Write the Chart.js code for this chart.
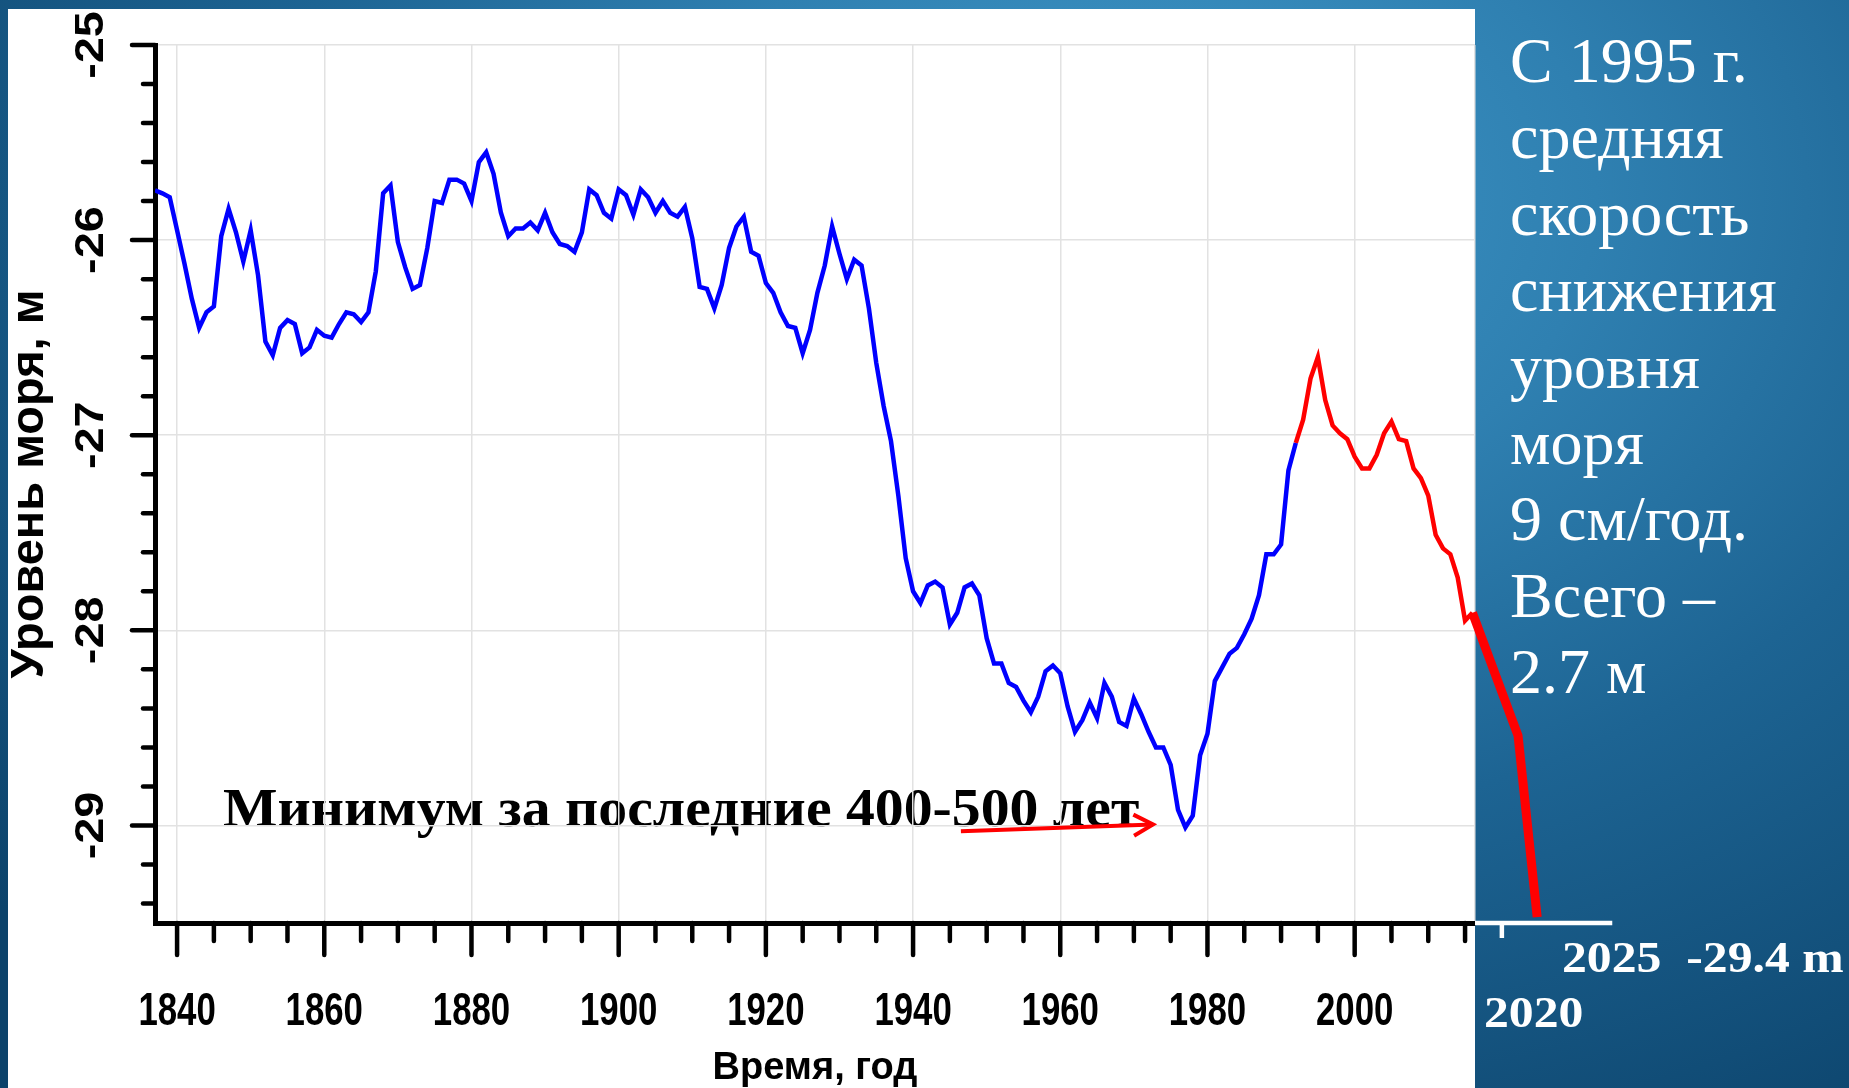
<!DOCTYPE html>
<html><head><meta charset="utf-8">
<script src="https://cdn.jsdelivr.net/npm/chart.js@4.4.1/dist/chart.umd.min.js"></script>
<style>
html,body{margin:0;padding:0;}
body{width:1849px;height:1088px;overflow:hidden;position:relative;
 background:radial-gradient(ellipse 1500px 1100px at 62% 18%, #3f97c8 0%, #2f80b1 30%, #1d6493 58%, #0c436b 100%);}
#panel{position:absolute;left:8px;top:9px;width:1467px;height:1079px;background:#fff;}
#note{position:absolute;left:223px;top:780px;font:bold 55px 'Liberation Serif',serif;line-height:55px;color:#000;white-space:nowrap;transform:scaleX(1.05);transform-origin:0 0;}
#wrap{position:absolute;left:0;top:0;width:1849px;height:1088px;}
#side{position:absolute;left:1510px;top:23px;color:#fff;font:64px 'Liberation Serif',serif;line-height:76.4px;white-space:pre;}
.lab{position:absolute;color:#fff;font:bold 44px 'Liberation Serif',serif;line-height:44px;white-space:pre;transform:scaleX(1.13);transform-origin:0 0;}
</style></head>
<body>
<div id="panel"></div>
<div id="note">Минимум за последние 400-500 лет</div>
<div id="wrap"><canvas id="c" width="1849" height="1088"></canvas></div>
<div id="side">С 1995 г.
средняя
скорость
снижения
уровня
моря
9 см/год.
Всего –
2.7 м</div>
<div class="lab" style="left:1562px;top:936px;">2025  -29.4 m</div>
<div class="lab" style="left:1484px;top:991px;">2020</div>
<script>
// ---- data ----
const years = [1837,1838,1839,1840,1841,1842,1843,1844,1845,1846,1847,1848,1849,1850,1851,1852,1853,1854,1855,1856,1857,1858,1859,1860,1861,1862,1863,1864,1865,1866,1867,1868,1869,1870,1871,1872,1873,1874,1875,1876,1877,1878,1879,1880,1881,1882,1883,1884,1885,1886,1887,1888,1889,1890,1891,1892,1893,1894,1895,1896,1897,1898,1899,1900,1901,1902,1903,1904,1905,1906,1907,1908,1909,1910,1911,1912,1913,1914,1915,1916,1917,1918,1919,1920,1921,1922,1923,1924,1925,1926,1927,1928,1929,1930,1931,1932,1933,1934,1935,1936,1937,1938,1939,1940,1941,1942,1943,1944,1945,1946,1947,1948,1949,1950,1951,1952,1953,1954,1955,1956,1957,1958,1959,1960,1961,1962,1963,1964,1965,1966,1967,1968,1969,1970,1971,1972,1973,1974,1975,1976,1977,1978,1979,1980,1981,1982,1983,1984,1985,1986,1987,1988,1989,1990,1991,1992,1993,1994,1995,1996,1997,1998,1999,2000,2001,2002,2003,2004,2005,2006,2007,2008,2009,2010,2011,2012,2013,2014,2015,2016];
const levels = [-25.745,-25.76,-25.78,-25.95,-26.12,-26.30,-26.45,-26.37,-26.34,-25.98,-25.84,-25.96,-26.11,-25.95,-26.18,-26.52,-26.59,-26.45,-26.41,-26.43,-26.58,-26.55,-26.46,-26.49,-26.50,-26.43,-26.37,-26.38,-26.42,-26.37,-26.16,-25.76,-25.72,-26.01,-26.14,-26.25,-26.23,-26.04,-25.80,-25.81,-25.69,-25.69,-25.71,-25.80,-25.60,-25.55,-25.66,-25.86,-25.98,-25.94,-25.94,-25.91,-25.95,-25.86,-25.96,-26.02,-26.03,-26.06,-25.96,-25.74,-25.77,-25.86,-25.89,-25.74,-25.77,-25.87,-25.74,-25.78,-25.86,-25.80,-25.86,-25.88,-25.83,-25.99,-26.24,-26.25,-26.35,-26.23,-26.04,-25.93,-25.88,-26.06,-26.08,-26.22,-26.27,-26.37,-26.44,-26.45,-26.58,-26.46,-26.27,-26.13,-25.93,-26.07,-26.20,-26.10,-26.13,-26.35,-26.63,-26.85,-27.03,-27.31,-27.63,-27.80,-27.86,-27.77,-27.75,-27.78,-27.97,-27.91,-27.78,-27.76,-27.82,-28.04,-28.17,-28.17,-28.27,-28.29,-28.36,-28.42,-28.34,-28.21,-28.18,-28.22,-28.39,-28.52,-28.46,-28.37,-28.45,-28.27,-28.34,-28.47,-28.49,-28.35,-28.43,-28.52,-28.60,-28.60,-28.69,-28.92,-29.01,-28.95,-28.64,-28.53,-28.26,-28.19,-28.12,-28.09,-28.02,-27.94,-27.82,-27.61,-27.61,-27.56,-27.18,-27.04,-26.92,-26.71,-26.60,-26.82,-26.95,-26.99,-27.02,-27.11,-27.17,-27.17,-27.10,-26.99,-26.93,-27.02,-27.03,-27.17,-27.22,-27.31,-27.51,-27.58,-27.61,-27.73,-27.95,-27.91];
const redFromYear = 1992;            // series turns red from here on
// hand-drawn projection (thick red), listed from its far end back to 2016
const extYears  = [2024.8, 2022.2, 2016];
const extLevels = [-29.47, -28.54, -27.91];
const arrowFrom = [1946.5, -29.03];
const arrowTo   = [1972.6, -28.995];
const xMin = 1837, xMax = 2016.35, yMin = -29.5, yMax = -25;
const extTickYear = 2020, axisExtendYear = 2035;

// ---- build datasets ----
const bluePts = [], redPts = [];
years.forEach((yr,i)=>{
  if (yr <= redFromYear) bluePts.push({x:yr,y:levels[i]});
  if (yr >= redFromYear) redPts.push({x:yr,y:levels[i]});
});
const extPts = extYears.map((yr,i)=>({x:yr,y:extLevels[i]}));

const isInt = v => Math.abs(v - Math.round(v)) < 1e-6;
const isMult = (v,m) => isInt(v) && Math.round(v) % m === 0;

const axisDeco = {
  id:'axisDeco',
  beforeDatasetsDraw(chart){
    const {ctx, scales:{x}, chartArea:a} = chart;
    ctx.save();
    ctx.strokeStyle = '#ffffff'; ctx.lineWidth = 4.5;
    ctx.beginPath(); ctx.moveTo(a.right, a.bottom); ctx.lineTo(x.getPixelForValue(axisExtendYear), a.bottom); ctx.stroke();
    const tx = x.getPixelForValue(extTickYear);
    ctx.beginPath(); ctx.moveTo(tx, a.bottom); ctx.lineTo(tx, a.bottom + 15); ctx.stroke();
    ctx.restore();
  },
  afterDraw(chart){
    const {ctx, scales:{x,y}, chartArea:a} = chart;
    ctx.save();
    ctx.strokeStyle = '#000'; ctx.lineWidth = 4.5; ctx.lineCap = 'round';
    x.ticks.forEach(t=>{
      if (!isMult(t.value,5)) return;
      const px = x.getPixelForValue(t.value);
      const major = isMult(t.value,20);
      ctx.beginPath(); ctx.moveTo(px, a.bottom); ctx.lineTo(px, a.bottom + (major ? 32 : 18)); ctx.stroke();
      if (major) {
        ctx.save();
        ctx.fillStyle = '#000';
        ctx.font = 'bold 47px "Liberation Sans", Arial, sans-serif';
        ctx.textAlign = 'center'; ctx.textBaseline = 'alphabetic';
        ctx.translate(px, a.bottom + 102); ctx.scale(0.74, 1);
        ctx.fillText(String(Math.round(t.value)), 0, 0);
        ctx.restore();
      }
    });
    y.ticks.forEach(t=>{
      const v = t.value;
      if (!isInt(v*5) || v < yMin + 0.05) return;
      const py = y.getPixelForValue(v);
      const len = isInt(v) ? 23 : 12;
      ctx.beginPath(); ctx.moveTo(a.left, py); ctx.lineTo(a.left - len, py); ctx.stroke();
      if (isInt(v)) {
        ctx.save();
        ctx.fillStyle = '#000';
        ctx.font = 'bold 40px "Liberation Sans", Arial, sans-serif';
        ctx.textAlign = 'center'; ctx.textBaseline = 'middle';
        ctx.translate(a.left - 63, py); ctx.rotate(-Math.PI/2); ctx.scale(1.17,1);
        ctx.fillText(String(Math.round(v)), 0, 0);
        ctx.restore();
      }
    });
    // arrow
    const p0 = [x.getPixelForValue(arrowFrom[0]), y.getPixelForValue(arrowFrom[1])];
    const p1 = [x.getPixelForValue(arrowTo[0]), y.getPixelForValue(arrowTo[1])];
    ctx.strokeStyle = '#ff0000'; ctx.lineWidth = 4; ctx.lineCap = 'butt';
    ctx.beginPath(); ctx.moveTo(p0[0],p0[1]); ctx.lineTo(p1[0],p1[1]); ctx.stroke();
    const ang = Math.atan2(p1[1]-p0[1], p1[0]-p0[0]);
    ctx.beginPath();
    ctx.moveTo(p1[0] - 22*Math.cos(ang-0.5), p1[1] - 22*Math.sin(ang-0.5));
    ctx.lineTo(p1[0], p1[1]);
    ctx.lineTo(p1[0] - 22*Math.cos(ang+0.5), p1[1] - 22*Math.sin(ang+0.5));
    ctx.stroke();
    ctx.restore();
  }
};

new Chart(document.getElementById('c'), {
  type:'line',
  data:{datasets:[
    {label:'Уровень моря', data:bluePts, borderColor:'#0000ff', borderWidth:4.5, pointRadius:0, tension:0},
    {label:'С 1992 г.', data:redPts, borderColor:'#ff0000', borderWidth:4.5, pointRadius:0, tension:0},
    {label:'Прогноз', data:extPts, borderColor:'#ff0000', borderWidth:9, pointRadius:0, tension:0, clip:false, borderCapStyle:'butt'}
  ]},
  options:{
    responsive:false, animation:false, devicePixelRatio:1,
    layout:{padding:{left:0, top:45, right:374, bottom:0}},
    plugins:{legend:{display:false}, tooltip:{enabled:false}},
    scales:{
      x:{type:'linear', min:xMin, max:xMax,
        afterBuildTicks(s){
          const t = [];
          for (let v = Math.ceil(xMin/5)*5; v <= xMax; v += 5) t.push({value:v});
          t.push({value:xMax});
          s.ticks = t;
        },
        afterFit(s){ s.height = 165; },
        ticks:{display:false},
        grid:{drawTicks:false, lineWidth:1.5, color:c => (c.tick && (isMult(c.tick.value,20) || Math.abs(c.tick.value-xMax)<1e-6)) ? '#e2e2e2' : 'rgba(0,0,0,0)'},
        border:{display:true, color:'#000', width:5},
        title:{display:true, text:'Время, год', color:'#000', padding:{top:0,bottom:-3},
          font:{family:"'Liberation Sans',Arial,sans-serif", size:38, weight:'bold'}}
      },
      y:{type:'linear', min:yMin, max:yMax,
        afterFit(s){ s.width = 155; },
        ticks:{display:false, stepSize:0.2},
        grid:{drawTicks:false, lineWidth:1.5, color:c => (c.tick && isInt(c.tick.value)) ? '#e2e2e2' : 'rgba(0,0,0,0)'},
        border:{display:true, color:'#000', width:5},
        title:{display:true, text:'Уровень моря, м', color:'#000', padding:{top:2,bottom:0},
          font:{family:"'Liberation Sans',Arial,sans-serif", size:47, weight:'bold'}}
      }
    }
  },
  plugins:[axisDeco]
});
</script>
</body></html>
